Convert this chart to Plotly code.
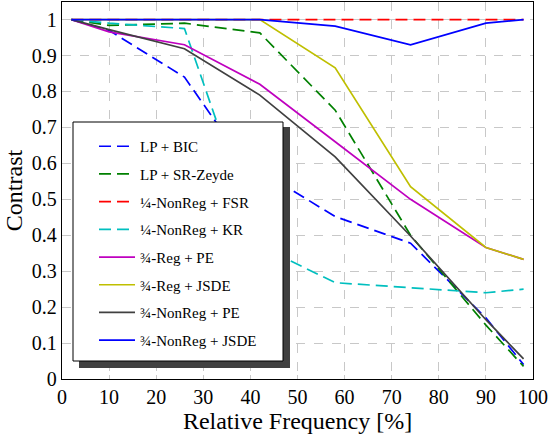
import plotly.graph_objects as go

# ---- data ----
x_common = [2, 10, 26, 42, 58, 74, 90, 98]
x_bic = [2, 10, 26, 34, 42, 58, 74, 90, 98]

lp_bic = [1.0, 0.97, 0.84, 0.69, 0.58, 0.452, 0.378, 0.17, 0.04]
lp_zeyde = [1.0, 0.984, 0.99, 0.963, 0.748, 0.40, 0.15, 0.035]
nonreg14_fsr = [1.0, 1.0, 1.0, 1.0, 1.0, 1.0, 1.0, 1.0]
nonreg14_kr = [1.0, 0.99, 0.975, 0.37, 0.268, 0.253, 0.24, 0.25]
reg34_pe = [1.0, 0.966, 0.93, 0.82, 0.66, 0.50, 0.366, 0.333]
reg34_jsde = [1.0, 1.0, 1.0, 1.0, 0.866, 0.535, 0.366, 0.333]
nonreg34_pe = [1.0, 0.972, 0.919, 0.79, 0.618, 0.398, 0.165, 0.056]
nonreg34_jsde = [1.0, 1.0, 1.0, 1.0, 0.982, 0.93, 0.99, 1.0]

names = ["LP + BIC", "LP + SR-Zeyde", "¼-NonReg + FSR", "¼-NonReg + KR",
         "¾-Reg + PE", "¾-Reg + JSDE", "¾-NonReg + PE", "¾-NonReg + JSDE"]
xs = [x_bic, x_common, x_common, x_common, x_common, x_common, x_common, x_common]
ys = [lp_bic, lp_zeyde, nonreg14_fsr, nonreg14_kr, reg34_pe, reg34_jsde, nonreg34_pe, nonreg34_jsde]
colors = ["#0000ff", "#008000", "#ff0000", "#00bfbf", "#bf00bf", "#bfbf00", "#404040", "#0000ff"]
dashes = ["12px,6px", "12px,6px", "12px,6px", "12px,6px", "solid", "solid", "solid", "solid"]

FONT = "Liberation Serif, DejaVu Serif, serif"

fig = go.Figure()
for i, (n, x, y, c, d) in enumerate(zip(names, xs, ys, colors, dashes)):
    fig.add_trace(go.Scatter(x=x, y=y, mode="lines", name=n,
                             line=dict(color=c, width=1.7, dash=d),
                             legendgroup=f"g{i}"))

# legend box with shadow (pgfplots style)
W, H = 552, 436
L, R, T, B = 62, 19, 2, 57
pw, ph = W - L - R, H - T - B

def px(xp):
    return (xp - L) / pw

def py(yp):
    return 1 - (yp - T) / ph

fig.add_shape(type="rect", xref="paper", yref="paper", layer="above",
              x0=px(79), x1=px(290), y0=py(368), y1=py(127),
              fillcolor="#404040", line=dict(width=0))
fig.add_shape(type="rect", xref="paper", yref="paper", layer="above",
              x0=px(73), x1=px(283), y0=py(361), y1=py(122),
              fillcolor="white", line=dict(color="black", width=1))

fig.update_layout(
    width=W, height=H,
    margin=dict(l=L, r=R, t=T, b=B),
    paper_bgcolor="white", plot_bgcolor="white",
    font=dict(family=FONT, color="black"),
    showlegend=True,
    legend=dict(x=px(94), y=py(130), xanchor="left", yanchor="top",
                bgcolor="rgba(0,0,0,0)", borderwidth=0,
                font=dict(family=FONT, size=15, color="black"),
                tracegroupgap=5.2, itemwidth=36),
    xaxis=dict(range=[0, 100], dtick=10, tick0=0,
               showgrid=True, gridcolor="#c8c8c8", griddash="dash", gridwidth=1,
               showline=True, linecolor="black", linewidth=1.3, mirror=True,
               ticks="inside", ticklen=4, tickcolor="#c8c8c8",
               zeroline=False, tickfont=dict(size=20, family=FONT),
               title=dict(text="Relative Frequency [%]", font=dict(size=24, family=FONT), standoff=2),
               automargin=False),
    yaxis=dict(range=[0, 1.049], dtick=0.1, tick0=0,
               showgrid=True, gridcolor="#c8c8c8", griddash="dash", gridwidth=1,
               showline=True, linecolor="black", linewidth=1.3, mirror=True,
               ticks="inside", ticklen=4, tickcolor="#c8c8c8",
               zeroline=False, tickfont=dict(size=20, family=FONT),
               title=dict(text="Contrast", font=dict(size=24, family=FONT), standoff=2),
               automargin=False),
)

fig.write_html("out.html", config={"displayModeBar": False},
               post_script="document.body.style.margin='0px';")
